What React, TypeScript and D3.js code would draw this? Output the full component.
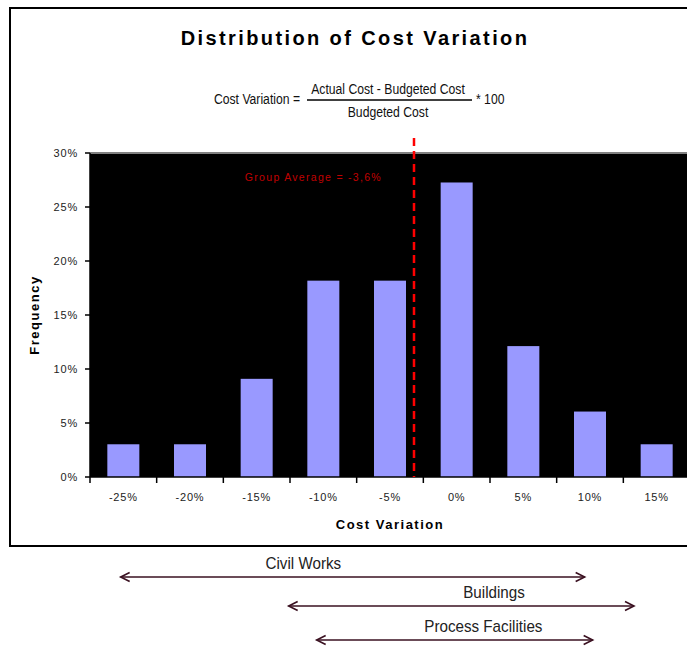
import * as d3 from "d3";

// histogram bins (labelled by centre) and their share of projects, in %
const categories = ["-25%", "-20%", "-15%", "-10%", "-5%", "0%", "5%", "10%", "15%"];
const binCenters = [-25, -20, -15, -10, -5, 0, 5, 10, 15];
const frequency = [3.03, 3.03, 9.09, 18.18, 18.18, 27.27, 12.12, 6.06, 3.03];
const yTicks = [0, 5, 10, 15, 20, 25, 30];

// group average marker (label text, and where the line sits on the axis)
const averageLabel = "Group Average = -3,6%";
const averageLinePos = -3.2;

// ranges of cost variation per project type
const rangeNames = ["Civil Works", "Buildings", "Process Facilities"];
const rangeFrom = [-25.2, -12.6, -10.5];
const rangeTo = [9.6, 13.3, 10.2];
const rangeLabelAt = [-11.5, 2.8, 2.0];

const W = 687;
const H = 649;
const PLOT = { left: 90, right: 690, top: 153, bottom: 477 };
const SANS = "'Liberation Sans', Arial, sans-serif";
const ARROW = "#3a1020";
const NARROW_X = 0.87; // horizontal squeeze to mimic a narrow face

export default function App() {
  const xBand = d3.scaleBand().domain(categories).range([PLOT.left, PLOT.right]).padding(0);
  const bw = xBand.bandwidth();
  const barW = bw * 0.48;
  const xVal = d3
    .scaleLinear()
    .domain([binCenters[0], binCenters[binCenters.length - 1]])
    .range([
      (xBand(categories[0]) as number) + bw / 2,
      (xBand(categories[categories.length - 1]) as number) + bw / 2,
    ]);
  const y = d3.scaleLinear().domain([0, 30]).range([PLOT.bottom, PLOT.top]);

  const bars = categories.map((c, i) => {
    const cx = (xBand(c) as number) + bw / 2;
    return (
      <rect
        key={c}
        x={cx - barW / 2}
        y={y(frequency[i])}
        width={barW}
        height={y(0) - y(frequency[i])}
        fill="#9999ff"
      />
    );
  });

  const xTicks = categories.map((c) => (
    <g key={c}>
      <line
        x1={xBand(c) as number}
        x2={xBand(c) as number}
        y1={PLOT.bottom}
        y2={PLOT.bottom + 6}
        stroke="#000"
        strokeWidth={1.5}
      />
      <text
        x={(xBand(c) as number) + bw / 2}
        y={PLOT.bottom + 24}
        textAnchor="middle"
        fontSize={11}
        letterSpacing={0.8}
        fontFamily={SANS}
        fill="#222"
      >
        {c}
      </text>
    </g>
  ));

  const yAxis = yTicks.map((t) => (
    <g key={t}>
      <line x1={PLOT.left - 5} x2={PLOT.left} y1={y(t)} y2={y(t)} stroke="#000" strokeWidth={1.5} />
      <text
        x={PLOT.left - 12}
        y={y(t)}
        dy="0.35em"
        textAnchor="end"
        fontSize={11}
        letterSpacing={0.8}
        fontFamily={SANS}
        fill="#222"
      >
        {t}%
      </text>
    </g>
  ));

  const arrowY = [577, 606, 640];
  const ranges = rangeNames.map((name, i) => {
    const x1 = xVal(rangeFrom[i]);
    const x2 = xVal(rangeTo[i]);
    const ay = arrowY[i];
    return (
      <g key={name} stroke={ARROW} strokeWidth={1.6} fill="none">
        <line x1={x1} x2={x2} y1={ay} y2={ay} />
        <polyline points={`${x1 + 9},${ay - 4.5} ${x1},${ay} ${x1 + 9},${ay + 4.5}`} />
        <polyline points={`${x2 - 9},${ay - 4.5} ${x2},${ay} ${x2 - 9},${ay + 4.5}`} />
        <text
          transform={`translate(${xVal(rangeLabelAt[i])},${ay - 8}) scale(0.95,1)`}
          textAnchor="middle"
          fontSize={16}
          fontFamily={SANS}
          fill="#222"
          stroke="none"
        >
          {name}
        </text>
      </g>
    );
  });

  const avgX = xVal(averageLinePos);
  const narrow = (x: number, yy: number) => `translate(${x},${yy}) scale(${NARROW_X},1)`;

  return (
    <svg width={W} height={H} style={{ position: "absolute", left: 0, top: 0, background: "#fff" }}>
      {/* chart frame */}
      <rect x={10} y={8} width={W + 20} height={538} fill="#fff" stroke="#000" strokeWidth={2} />

      <text
        x={355}
        y={45}
        textAnchor="middle"
        fontSize={20}
        fontWeight="bold"
        letterSpacing={2.4}
        fontFamily={SANS}
        fill="#000"
      >
        Distribution of Cost Variation
      </text>

      {/* formula, in a condensed face */}
      <g fontFamily={SANS} fontSize={14} fill="#111">
        <text transform={narrow(300, 104)} textAnchor="end">Cost Variation =</text>
        <text transform={narrow(388, 94)} textAnchor="middle">Actual Cost - Budgeted Cost</text>
        <line x1={307} x2={472} y1={100} y2={100} stroke="#000" strokeWidth={1.3} />
        <text transform={narrow(388, 117)} textAnchor="middle">Budgeted Cost</text>
        <text transform={narrow(476, 104)}>* 100</text>
      </g>

      {/* plot area */}
      <rect x={PLOT.left} y={PLOT.top} width={PLOT.right - PLOT.left} height={PLOT.bottom - PLOT.top} fill="#000" />
      <line x1={PLOT.left} x2={PLOT.right} y1={PLOT.top} y2={PLOT.top} stroke="#808080" strokeWidth={2} />
      {bars}
      <line x1={PLOT.left} x2={PLOT.left} y1={PLOT.top} y2={PLOT.bottom} stroke="#000" strokeWidth={1.5} />
      <line x1={PLOT.left} x2={PLOT.right} y1={PLOT.bottom} y2={PLOT.bottom} stroke="#000" strokeWidth={1.5} />
      {yAxis}
      {xTicks}

      <line
        x1={avgX}
        x2={avgX}
        y1={138}
        y2={PLOT.bottom}
        stroke="#ff0000"
        strokeWidth={2.5}
        strokeDasharray="8,5"
      />
      <text
        x={avgX - 32}
        y={181}
        textAnchor="end"
        fontSize={10.5}
        letterSpacing={1.3}
        fontFamily={SANS}
        fill="#c00000"
      >
        {averageLabel}
      </text>

      <text
        transform={`translate(39,${(PLOT.top + PLOT.bottom) / 2}) rotate(-90)`}
        textAnchor="middle"
        fontSize={13}
        fontWeight="bold"
        letterSpacing={1.5}
        fontFamily={SANS}
        fill="#000"
      >
        Frequency
      </text>
      <text
        x={390}
        y={529}
        textAnchor="middle"
        fontSize={13}
        fontWeight="bold"
        letterSpacing={1.5}
        fontFamily={SANS}
        fill="#000"
      >
        Cost Variation
      </text>

      {ranges}
    </svg>
  );
}
